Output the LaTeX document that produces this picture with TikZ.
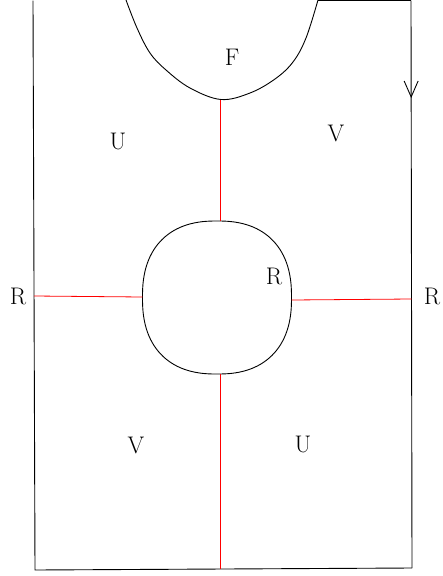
\documentclass[tikz,border=0pt]{standalone}
\usetikzlibrary{arrows.meta,decorations.markings}
\begin{document}
\begin{tikzpicture}[x=1pt,y=-1pt,
  edge/.style={line width=0.9pt,black},
  cut/.style={line width=0.8pt,red},
  lab/.style={font=\fontsize{24}{28}\selectfont,inner sep=0pt}]
\useasboundingbox (0,0) rectangle (443,576);
% outer boundary
\coordinate (tl) at (33,0.5);
\coordinate (bl) at (35,570);
\coordinate (br) at (412,568);
\coordinate (tr) at (411,0.5);
\coordinate (fl) at (126,0);
\coordinate (fr) at (318,0.5);
\draw[edge] (tl) -- (bl) -- (br);
\draw[edge,postaction={decorate},decoration={markings,mark=at position 0.17 with {\draw[line width=0.9pt] (-16,-7) -- (0,0) -- (-16,7);}}] (tr) -- (br);
\draw[edge] (tr) -- (fr);
% F boundary
\draw[edge] plot[smooth,tension=0.6] coordinates {(126,0) (137,28) (150,53) (166,70) (190,88) (221,99.5) (250,93) (275,79) (293,62) (306,38) (318,0)};
% hole (superellipse)
\draw[edge] plot[domain=1:358,samples=120,smooth]
  ({217+74.5*sign(cos(\x))*pow(abs(cos(\x)),0.84)},{297.5+76.5*sign(sin(\x))*pow(abs(sin(\x)),0.84)}) -- cycle;
% red cuts
\coordinate (ftop) at (220,99.5);
\coordinate (htop) at (220,221);
\coordinate (hleft) at (142.5,297);
\coordinate (hright) at (291.5,300);
\coordinate (hbot) at (220,374);
\coordinate (lmid) at (34,296);
\coordinate (rmid) at (411.5,299);
\coordinate (bmid) at (220,569);
\draw[cut] (ftop) -- (htop);
\draw[cut] (lmid) -- (hleft);
\draw[cut] (hright) -- (rmid);
\draw[cut] (hbot) -- (bmid);
% labels
\node[lab] (F) at (232,57) {F};
\node[lab] (U1) at (118,141) {U};
\node[lab] (V1) at (336,133) {V};
\node[lab] (Rl) at (18,296) {R};
\node[lab] (Rr) at (432,296) {R};
\node[lab] (Rin) at (274,276) {R};
\node[lab] (V2) at (136,445) {V};
\node[lab] (U2) at (303,444) {U};
\end{tikzpicture}
\end{document}
